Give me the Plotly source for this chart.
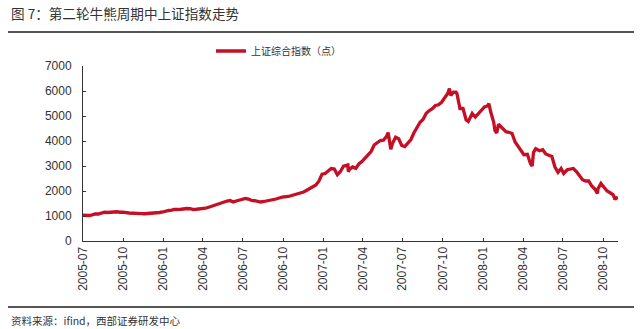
import plotly.graph_objects as go

# ---- data (weekly readings of the Shanghai Composite, points) ----
dates = [
 "2005-07-01","2005-07-08","2005-07-15","2005-07-22","2005-07-29",
 "2005-08-05","2005-08-12","2005-08-19","2005-08-26",
 "2005-09-02","2005-09-09","2005-09-16","2005-09-23","2005-09-30",
 "2005-10-14","2005-10-21","2005-10-28",
 "2005-11-04","2005-11-11","2005-11-18","2005-11-25",
 "2005-12-02","2005-12-09","2005-12-16","2005-12-23","2005-12-30",
 "2006-01-06","2006-01-13","2006-01-20","2006-01-25",
 "2006-02-10","2006-02-17","2006-02-24",
 "2006-03-03","2006-03-10","2006-03-17","2006-03-24","2006-03-31",
 "2006-04-07","2006-04-14","2006-04-21","2006-04-28",
 "2006-05-12","2006-05-19","2006-05-26",
 "2006-06-02","2006-06-09","2006-06-16","2006-06-23","2006-06-30",
 "2006-07-07","2006-07-14","2006-07-21","2006-07-28",
 "2006-08-04","2006-08-11","2006-08-18","2006-08-25",
 "2006-09-01","2006-09-08","2006-09-15","2006-09-22","2006-09-29",
 "2006-10-13","2006-10-20","2006-10-27",
 "2006-11-03","2006-11-10","2006-11-17","2006-11-24",
 "2006-12-01","2006-12-08","2006-12-15","2006-12-22","2006-12-29",
 "2007-01-05","2007-01-12","2007-01-19","2007-01-26",
 "2007-02-02","2007-02-09","2007-02-16","2007-02-26","2007-02-27",
 "2007-03-02","2007-03-09","2007-03-16","2007-03-23","2007-03-30",
 "2007-04-06","2007-04-13","2007-04-20","2007-04-27",
 "2007-05-11","2007-05-18","2007-05-25","2007-05-29","2007-06-01",
 "2007-06-04","2007-06-08","2007-06-15","2007-06-22","2007-06-29",
 "2007-07-06","2007-07-13","2007-07-20","2007-07-27",
 "2007-08-03","2007-08-10","2007-08-17","2007-08-24","2007-08-31",
 "2007-09-07","2007-09-14","2007-09-21","2007-09-28",
 "2007-10-12","2007-10-16","2007-10-19","2007-10-25","2007-10-31",
 "2007-11-02","2007-11-09","2007-11-16","2007-11-23","2007-11-28","2007-11-30",
 "2007-12-07","2007-12-14","2007-12-21","2007-12-28",
 "2008-01-04","2008-01-11","2008-01-14","2008-01-18","2008-01-25","2008-01-28","2008-02-01",
 "2008-02-05","2008-02-15","2008-02-22","2008-02-29",
 "2008-03-07","2008-03-14","2008-03-21","2008-03-28",
 "2008-04-03","2008-04-11","2008-04-18","2008-04-22","2008-04-25","2008-04-30",
 "2008-05-09","2008-05-16","2008-05-23","2008-05-30",
 "2008-06-06","2008-06-13","2008-06-20","2008-06-27","2008-07-03",
 "2008-07-11","2008-07-18","2008-07-25","2008-08-01",
 "2008-08-08","2008-08-15","2008-08-22","2008-08-29",
 "2008-09-05","2008-09-12","2008-09-18","2008-09-19","2008-09-26",
 "2008-10-10","2008-10-17","2008-10-24","2008-10-28","2008-10-31","2008-11-04",
]
index_values = [
 1030,1010,1020,1045,1083,
 1080,1115,1150,1140,
 1160,1160,1170,1150,1155,
 1120,1110,1085,
 1100,1095,1090,1095,
 1100,1120,1130,1140,1161,
 1200,1220,1235,1260,
 1270,1290,1300,
 1290,1260,1270,1275,1300,
 1310,1350,1390,1440,
 1520,1580,1600,
 1620,1560,1600,1640,1672,
 1700,1680,1620,1610,
 1590,1560,1580,1600,
 1620,1640,1680,1720,1752,
 1780,1810,1837,
 1870,1900,1960,2030,
 2100,2200,2240,2400,2675,
 2700,2820,2900,2880,
 2650,2780,2990,3040,2771,
 2880,2960,2900,3080,3180,
 3320,3450,3580,3840,
 4020,4030,4180,4335,4000,
 3670,3910,4150,4090,3820,
 3780,3920,4060,4330,
 4560,4750,4870,5110,5220,
 5290,5420,5450,5550,
 5900,6100,5820,5950,5950,
 5900,5300,5300,4850,4780,4870,
 5100,4960,5100,5260,
 5360,5400,5500,5180,4760,4420,4320,
 4670,4500,4370,4350,
 4300,3960,3800,3600,
 3450,3470,3100,3000,3550,3690,
 3610,3650,3480,3430,
 3380,2960,2750,2900,2700,
 2850,2860,2900,2780,
 2600,2450,2400,2400,
 2200,2080,1900,2080,2300,
 2000,1930,1850,1664,1730,1700,
]
tick_dates = ["2005-07-01","2005-10-01","2006-01-01","2006-04-01","2006-07-01",
              "2006-10-01","2007-01-01","2007-04-01","2007-07-01","2007-10-01",
              "2008-01-01","2008-04-01","2008-07-01","2008-10-01"]
tick_labels = ["2005-07","2005-10","2006-01","2006-04","2006-07","2006-10","2007-01",
               "2007-04","2007-07","2007-10","2008-01","2008-04","2008-07","2008-10"]
series_name = "上证综合指数（点）"
title_text = "图 7：第二轮牛熊周期中上证指数走势"
source_text = "资料来源：ifind，西部证券研发中心"

# ---- layout geometry (pixels) ----
W, H = 640, 329
L, R, T, B = 83, 22, 66, 88
PW, PH = W - L - R, H - T - B

def px(x):
    return (x - L) / PW

def py(y):
    return (H - B - y) / PH

fig = go.Figure()
fig.add_trace(go.Scatter(
    x=dates, y=index_values, mode="lines", name=series_name,
    line=dict(color="#C40F24", width=3.3),
))

fig.update_layout(
    width=W, height=H,
    margin=dict(l=L, r=R, t=T, b=B, pad=0),
    paper_bgcolor="white", plot_bgcolor="white",
    font=dict(family="Liberation Sans, Arial, sans-serif", size=12, color="#333333"),
    showlegend=True,
    legend=dict(
        orientation="h", x=px(211), y=py(51), xanchor="left", yanchor="middle",
        font=dict(family="Noto Sans CJK SC", size=10, color="#333333"),
        itemwidth=30, bgcolor="rgba(0,0,0,0)",
    ),
    xaxis=dict(
        type="date", range=["2005-07-01", "2008-11-04"],
        tickmode="array", tickvals=tick_dates, ticktext=tick_labels,
        tickangle=-90, ticks="inside", ticklen=3, tickcolor="#333333",
        showline=True, linecolor="#333333", linewidth=1,
        showgrid=False, zeroline=False,
        tickfont=dict(size=12, color="#333333"),
    ),
    yaxis=dict(
        range=[0, 7000], dtick=1000, tick0=0,
        ticks="inside", ticklen=3, tickcolor="#333333",
        showline=True, linecolor="#333333", linewidth=1,
        showgrid=False, zeroline=False,
        tickfont=dict(size=12, color="#333333"),
        ticklabelstandoff=8,
    ),
    shapes=[
        dict(type="line", xref="paper", yref="paper", x0=px(8), x1=px(634),
             y0=py(32), y1=py(32), line=dict(color="#555555", width=2)),
        dict(type="line", xref="paper", yref="paper", x0=px(8), x1=px(634),
             y0=py(307), y1=py(307), line=dict(color="#555555", width=2)),
    ],
    annotations=[
        dict(text=title_text, xref="paper", yref="paper", x=px(9), y=py(13),
             xanchor="left", yanchor="middle", showarrow=False,
             font=dict(family="Noto Sans CJK SC", size=13.6, color="#333333")),
        dict(text=source_text, xref="paper", yref="paper", x=px(9), y=py(320),
             xanchor="left", yanchor="middle", showarrow=False,
             font=dict(family="Noto Sans CJK SC", size=10.5, color="#333333")),
    ],
)

fig.write_html("out.html")
